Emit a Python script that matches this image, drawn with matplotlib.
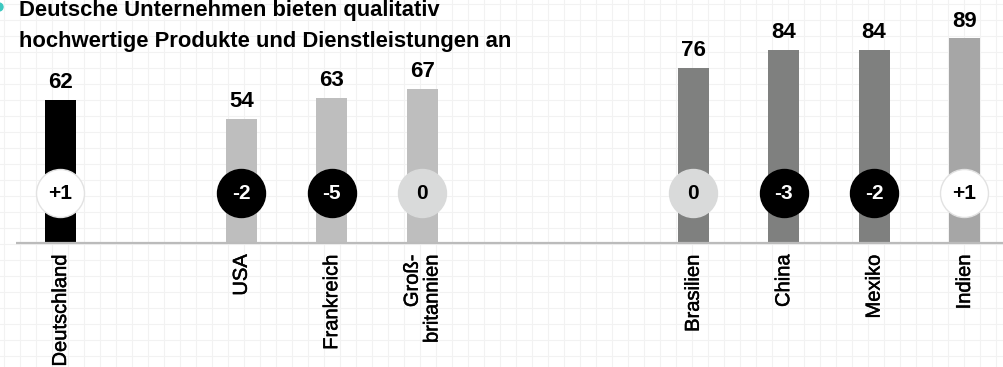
import matplotlib
matplotlib.use("Agg")
import matplotlib.pyplot as plt
from matplotlib.patches import Circle
import matplotlib.patheffects as pe

plt.rcParams['font.family'] = ['Liberation Sans', 'DejaVu Sans']

# ---- data ----
categories = ["Deutschland", "USA", "Frankreich", "Groß-\nbritannien",
              "Brasilien", "China", "Mexiko", "Indien"]
values = [62, 54, 63, 67, 76, 84, 84, 89]
changes = ["+1", "-2", "-5", "0", "0", "-3", "-2", "+1"]
title_lines = ["Deutsche Unternehmen bieten qualitativ",
               "hochwertige Produkte und Dienstleistungen an"]

# ---- layout / style ----
slots = [0, 2, 3, 4, 7, 8, 9, 10]
bar_colors = ["#000000", "#bebebe", "#bebebe", "#bebebe",
              "#7f807f", "#7f807f", "#7f807f", "#a6a6a6"]
circle_face = {"+": "#ffffff", "-": "#000000", "0": "#d9dada"}
circle_text = {"+": "#000000", "-": "#ffffff", "0": "#000000"}

W, H = 1004, 367
fig = plt.figure(figsize=(W / 100, H / 100), dpi=100)
fig.patch.set_facecolor("white")

# background grid
bg = fig.add_axes([0, 0, 1, 1])
bg.set_xlim(0, W)
bg.set_ylim(H, 0)
bg.axis("off")
for gx in range(4, W, 16):
    bg.axvline(gx, color="#f2f2f2", lw=0.8, zorder=0)
for gy in range(4, H, 16):
    bg.axhline(gy, color="#f2f2f2", lw=0.8, zorder=0)
bg.add_patch(Circle((-1, 7), 4, color="#3cc8c0", zorder=1))

# main axes
px_per_slot = 90.4
x0_px = 60.5
base_px = 242.7
px_per_unit = 2.295
ax = fig.add_axes([0, (H - base_px) / H, 1, base_px / H])
ax.set_xlim(-x0_px / px_per_slot, (W - x0_px) / px_per_slot)
ax.set_ylim(0, base_px / px_per_unit)
ax.axis("off")
ax.patch.set_alpha(0)

bw = 31 / px_per_slot
ax.bar(slots, values, width=bw, color=bar_colors, zorder=2)
ax.plot([(16 - x0_px) / px_per_slot, (W - x0_px) / px_per_slot], [0, 0],
        color="#bbbbbb", lw=1.6, zorder=3, solid_capstyle="butt", clip_on=False)

label_fx = [pe.withStroke(linewidth=0.35, foreground="#000000")]
circ_y = 21.5
for s, v, c, cat in zip(slots, values, changes, categories):
    k = c[0] if c[0] in "+-" else "0"
    ax.scatter([s], [circ_y], s=1194, color=circle_face[k],
               edgecolors="#e2e2e2" if k == "+" else circle_face[k],
               linewidths=1.0, zorder=4)
    ax.text(s, circ_y, c, ha="center", va="center", fontsize=15,
            fontweight="bold", color=circle_text[k], zorder=5)
    ax.annotate(str(v), (s, v), xytext=(0, 5.0), textcoords="offset points",
                ha="center", va="bottom", fontsize=16, fontweight="bold",
                color="#000000")
    ax.annotate(cat, (s, 0), xytext=(0, -8.5), textcoords="offset points",
                ha="center", va="top", rotation=90, multialignment="right",
                fontsize=14.5, color="#000000", annotation_clip=False,
                linespacing=1.05, path_effects=label_fx)

fig.text(19 / W, 1 - 16 / H, title_lines[0], ha="left", va="baseline",
         fontsize=15.8, fontweight="bold", color="#000000")
fig.text(19 / W, 1 - 46.7 / H, title_lines[1], ha="left", va="baseline",
         fontsize=15.8, fontweight="bold", color="#000000")

fig.savefig("out.png", dpi=100, facecolor="white")
